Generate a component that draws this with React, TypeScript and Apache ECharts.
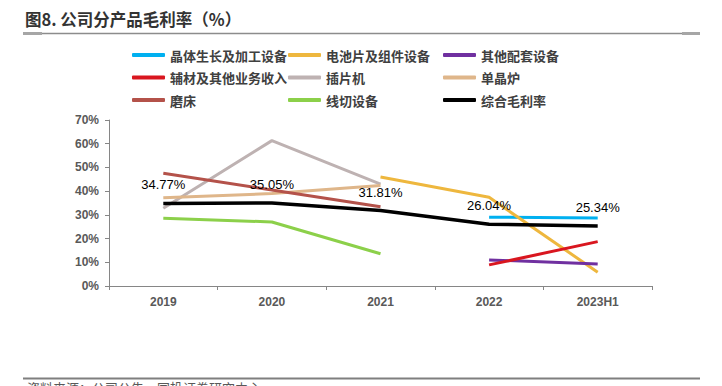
import React, { useEffect, useRef } from "react";
import * as echarts from "echarts";

const categories = ["2019", "2020", "2021", "2022", "2023H1"];
const yTicks = [0, 10, 20, 30, 40, 50, 60, 70];

const crystal = [null, null, null, 29.0, 28.7];
const cell = [null, null, 46.0, 37.4, 5.8];
const otherEq = [null, null, null, 11.0, 9.3];
const auxiliary = [null, null, null, 8.9, 18.7];
const inserter = [32.8, 61.3, 43.0, null, null];
const furnace = [37.2, 39.0, 42.4, null, null];
const grinder = [47.5, 40.5, 33.4, null, null];
const wireSaw = [28.6, 27.0, 13.6, null, null];
const total = [34.77, 35.05, 31.81, 26.04, 25.34];

const seriesDefs = [
  { name: "晶体生长及加工设备", data: crystal, color: "#00B0F0" },
  { name: "电池片及组件设备", data: cell, color: "#EEB73E" },
  { name: "其他配套设备", data: otherEq, color: "#7030A0" },
  { name: "辅材及其他业务收入", data: auxiliary, color: "#D9161F" },
  { name: "插片机", data: inserter, color: "#BEB2B2" },
  { name: "单晶炉", data: furnace, color: "#DFB68A" },
  { name: "磨床", data: grinder, color: "#B4524A" },
  { name: "线切设备", data: wireSaw, color: "#8CD04A" },
  { name: "综合毛利率", data: total, color: "#000000" },
];

const legendColumns = [
  ["晶体生长及加工设备", "辅材及其他业务收入", "磨床"],
  ["电池片及组件设备", "插片机", "线切设备"],
  ["其他配套设备", "单晶炉", "综合毛利率"],
];
const legendLefts = [132, 288, 443];

export default function App() {
  const ref = useRef<HTMLDivElement>(null);
  useEffect(() => {
    if (!ref.current) return;
    const chart = echarts.init(ref.current, null, { renderer: "svg" });
    const cjk = "'Noto Sans CJK SC', sans-serif";
    const latin = "'Liberation Sans', Arial, sans-serif";
    chart.setOption({
      animation: false,
      backgroundColor: "#ffffff",
      title: {
        text: "图8. 公司分产品毛利率（%）",
        left: 25,
        top: 11,
        padding: 0,
        textStyle: { fontSize: 16.5, fontWeight: "bold", color: "#333333", fontFamily: cjk },
      },
      legend: legendColumns.map((col, i) => ({
        data: col,
        orient: "vertical",
        left: legendLefts[i],
        top: 47.5,
        padding: 0,
        itemGap: 7.5,
        itemWidth: 33,
        itemHeight: 4,
        icon: "roundRect",
        textStyle: { fontSize: 13, lineHeight: 15, fontWeight: "bold", color: "#404040", fontFamily: cjk },
      })),
      grid: { left: 109, right: 70, top: 120, bottom: 100, containLabel: false },
      xAxis: {
        type: "category",
        data: categories,
        boundaryGap: true,
        axisLine: { lineStyle: { color: "#868686", width: 1 } },
        axisTick: { show: true, length: 4, lineStyle: { color: "#868686" } },
        axisLabel: { fontSize: 12, fontWeight: "bold", color: "#595959", fontFamily: latin, margin: 10 },
      },
      yAxis: {
        type: "value",
        min: yTicks[0],
        max: yTicks[yTicks.length - 1],
        interval: 10,
        splitLine: { show: false },
        axisLine: { show: true, lineStyle: { color: "#868686", width: 1 } },
        axisTick: { show: true, length: 4, lineStyle: { color: "#868686" } },
        axisLabel: {
          fontSize: 12,
          fontWeight: "bold",
          color: "#595959",
          fontFamily: latin,
          margin: 10,
          formatter: (v: number) => v + "%",
        },
      },
      series: seriesDefs.map((s) => {
        const isTotal = s.name === "综合毛利率";
        return {
          name: s.name,
          type: "line",
          data: s.data,
          showSymbol: isTotal,
          symbol: isTotal ? "circle" : "none",
          symbolSize: isTotal ? 0.1 : 0,
          connectNulls: false,
          color: s.color,
          itemStyle: { color: s.color },
          lineStyle: { color: s.color, width: isTotal ? 3.5 : 3 },
          z: isTotal ? 3 : 2,
          label: isTotal
            ? {
                show: true,
                position: "top",
                distance: 12,
                fontSize: 13,
                color: "#000000",
                fontFamily: latin,
                formatter: (p: any) => Number(p.value).toFixed(2) + "%",
              }
            : { show: false },
        };
      }),
      graphic: [
        { type: "line", shape: { x1: 23, y1: 33.5, x2: 700, y2: 33.5 }, style: { stroke: "#8c8c8c", lineWidth: 1.5 } },
        { type: "line", shape: { x1: 23, y1: 33.5, x2: 42, y2: 33.5 }, style: { stroke: "#a6a6a6", lineWidth: 3 } },
        { type: "line", shape: { x1: 682, y1: 33.5, x2: 700, y2: 33.5 }, style: { stroke: "#a6a6a6", lineWidth: 3 } },
        { type: "line", shape: { x1: 23, y1: 378.5, x2: 700, y2: 378.5 }, style: { stroke: "#7f7f7f", lineWidth: 2 } },
        {
          type: "text",
          left: 27,
          top: 381,
          style: { text: "资料来源：公司公告，国投证券研究中心", fontSize: 13, fill: "#595959", fontFamily: cjk },
        },
      ],
    });
    return () => chart.dispose();
  }, []);
  return <div ref={ref} style={{ width: 722, height: 386, position: "absolute", left: 0, top: 0 }} />;
}
